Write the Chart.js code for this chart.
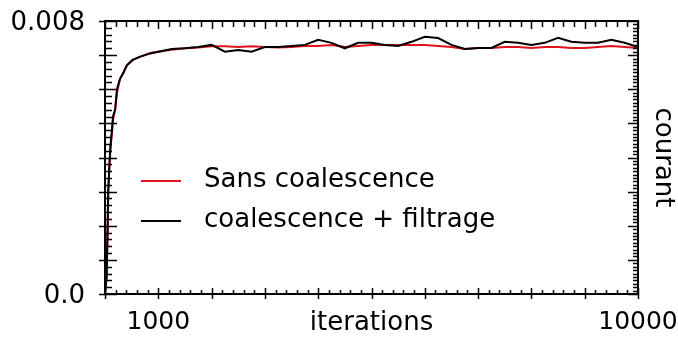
<!DOCTYPE html>
<html>
<head>
<meta charset="utf-8">
<script src="https://cdn.jsdelivr.net/npm/chart.js@4/dist/chart.umd.min.js"></script>
<style>
  html, body { margin: 0; padding: 0; background: #fff; }
  canvas { display: block; }
</style>
</head>
<body>
<canvas id="chart" width="678" height="339"></canvas>
<script>
// iterations sampled along the curves
const iterations = [0, 30, 50, 60, 80, 100, 130, 150, 190, 225, 280, 350, 410, 520, 650, 850,
  1000, 1250, 1500, 1750, 2000, 2250, 2500, 2750, 3000, 3250, 3500, 3750, 4000, 4250, 4500, 4750,
  5000, 5250, 5500, 5750, 6000, 6250, 6500, 6750, 7000, 7250, 7500, 7750, 8000, 8250, 8500, 8750,
  9000, 9250, 9500, 9750, 10000];

const sansCoalescence = [0, 0.0005, 0.0019, 0.0029, 0.0036, 0.0042, 0.0047, 0.0051, 0.0054, 0.0059, 0.0063, 0.0065, 0.0067, 0.00686, 0.00695, 0.00706,
  0.0071, 0.00716, 0.0072, 0.00722, 0.00726, 0.00726, 0.00724, 0.00726, 0.00724, 0.00722, 0.00724, 0.00727, 0.00727, 0.0073, 0.00724, 0.00727,
  0.0073, 0.0073, 0.0073, 0.0073, 0.0073, 0.00727, 0.00724, 0.00718, 0.00721, 0.00721, 0.00724, 0.00724, 0.00721, 0.00724, 0.00724, 0.00721,
  0.00721, 0.00724, 0.00727, 0.00724, 0.00721];

const coalescenceFiltrage = [0, 0.0005, 0.0020, 0.0030, 0.0037, 0.0043, 0.0048, 0.0052, 0.0054, 0.0060, 0.0063, 0.0065, 0.0067, 0.00686, 0.00695, 0.00705,
  0.0071, 0.00718, 0.0072, 0.00724, 0.0073, 0.0071, 0.00715, 0.0071, 0.00724, 0.00724, 0.00727, 0.0073, 0.00745, 0.00736, 0.0072, 0.00736,
  0.00736, 0.0073, 0.00727, 0.00739, 0.00754, 0.0075, 0.0073, 0.00718, 0.00721, 0.00721, 0.00739, 0.00736, 0.0073, 0.00736, 0.00751, 0.00739,
  0.00736, 0.00736, 0.00745, 0.00736, 0.00724];

const xLabels = [1000, 10000];
const yLabels = { 0: '0.0', 8: '0.008' };   // keyed by thousandths

const FONT = { family: 'DejaVu Sans', size: 26 };

const toPoints = vals => iterations.map((it, i) => ({ x: it, y: vals[i] }));

// fixed box size, and no extra padding asked for by the tick labels
function fixBox(w, h) {
  return s => {
    if (w != null) s.width = w;
    if (h != null) s.height = h;
    s.paddingTop = s.paddingBottom = s.paddingLeft = s.paddingRight = 0;
  };
}

// inward / outward tick marks on all four sides of the frame
const tickMarks = {
  id: 'tickMarks',
  afterDraw(chart) {
    const { ctx } = chart;
    const { x, x2, y, y2 } = chart.scales;
    ctx.save();
    ctx.strokeStyle = '#000';
    ctx.lineWidth = 1.5;
    ctx.beginPath();
    for (let k = 0; k <= 50; k++) {
      const v = k * 200;
      const major = k % 5 === 0;
      const px = Math.round(x.getPixelForValue(v)) + 0.5;
      // bottom
      ctx.moveTo(px, x.top - (major ? 6 : 4));
      ctx.lineTo(px, x.top + (major ? 5 : 0));
      // top
      ctx.moveTo(px, x2.bottom);
      ctx.lineTo(px, x2.bottom + (major ? 8 : 6));
    }
    for (let k = 0; k <= 40; k++) {
      const py = Math.round(y.getPixelForValue(k * 0.0002)) + 0.5;
      const major = k % 5 === 0;
      ctx.moveTo(y.right - (major ? 6 : 0), py);
      ctx.lineTo(y.right + (major ? 12 : 7), py);
    }
    for (let k = 0; k <= 80; k++) {
      const py = Math.round(y2.getPixelForValue(k * 0.0001)) + 0.5;
      const major = k % 10 === 0;
      ctx.moveTo(y2.left, py);
      ctx.lineTo(y2.left - (major ? 10 : 5), py);
    }
    ctx.stroke();
    ctx.restore();
  }
};

// legend drawn inside the plot area, left side
const insideLegend = {
  id: 'insideLegend',
  afterDraw(chart) {
    const { ctx } = chart;
    const rows = [181, 221];
    ctx.save();
    ctx.font = FONT.size + 'px ' + FONT.family;
    ctx.textBaseline = 'middle';
    ctx.fillStyle = '#000';
    chart.data.datasets.forEach((ds, i) => {
      ctx.strokeStyle = ds.borderColor;
      ctx.lineWidth = 2;
      ctx.beginPath();
      ctx.moveTo(141, rows[i]);
      ctx.lineTo(181, rows[i]);
      ctx.stroke();
      ctx.fillText(ds.label, 204, rows[i] - 1);
    });
    ctx.restore();
  }
};

new Chart(document.getElementById('chart'), {
  type: 'line',
  data: {
    datasets: [
      {
        label: 'Sans coalescence',
        data: toPoints(sansCoalescence),
        borderColor: '#e0141a',
        borderWidth: 2,
        pointRadius: 0,
        order: 1
      },
      {
        label: 'coalescence + filtrage',
        data: toPoints(coalescenceFiltrage),
        borderColor: '#000000',
        borderWidth: 2,
        pointRadius: 0,
        order: 0
      }
    ]
  },
  options: {
    responsive: false,
    animation: false,
    layout: { padding: 0, autoPadding: false },
    plugins: {
      legend: { display: false },
      tooltip: { enabled: false }
    },
    scales: {
      x: {
        type: 'linear',
        position: 'bottom',
        min: 0,
        max: 10000,
        grid: { display: false, drawTicks: false },
        border: { display: true, color: '#000', width: 2 },
        ticks: {
          stepSize: 1000,
          autoSkip: false,
          maxRotation: 0,
          padding: 13,
          color: '#000',
          font: { family: FONT.family, size: 25 },
          callback: v => xLabels.includes(v) ? String(v) : ''
        },
        title: { display: true, text: 'iterations', color: '#000', font: FONT, padding: { top: 0, bottom: 0 } },
        afterFit: fixBox(null, 45)
      },
      x2: {
        type: 'linear',
        position: 'top',
        min: 0,
        max: 10000,
        grid: { display: false, drawTicks: false },
        border: { display: true, color: '#000', width: 2 },
        ticks: { display: false },
        afterFit: fixBox(null, 21)
      },
      y: {
        type: 'linear',
        position: 'left',
        min: 0,
        max: 0.008,
        grid: { display: false, drawTicks: false },
        border: { display: true, color: '#000', width: 2 },
        ticks: {
          stepSize: 0.001,
          autoSkip: false,
          padding: 20,
          labelOffset: 2,
          color: '#000',
          font: FONT,
          callback: v => yLabels[Math.round(v * 1000)] || ''
        },
        afterFit: fixBox(105, null)
      },
      y2: {
        type: 'linear',
        position: 'right',
        min: 0,
        max: 0.008,
        grid: { display: false, drawTicks: false },
        border: { display: true, color: '#000', width: 2 },
        ticks: { display: false },
        title: { display: true, text: 'courant', color: '#000', font: FONT, padding: { top: 0, bottom: 0 } },
        afterFit: fixBox(40, null)
      }
    }
  },
  plugins: [tickMarks, insideLegend]
});
</script>
</body>
</html>
